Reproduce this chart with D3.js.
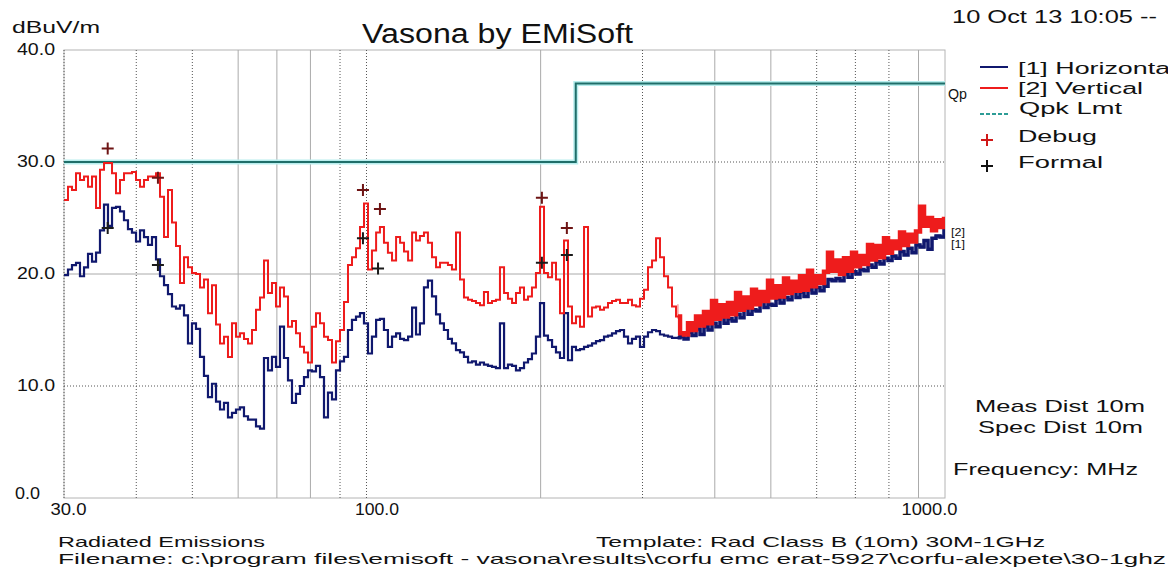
<!DOCTYPE html>
<html>
<head>
<meta charset="utf-8">
<script src="https://cdn.jsdelivr.net/npm/d3@7"></script>
<style>
  body { margin: 0; background: #fff; }
  svg { display: block; font-family: "Liberation Sans", Arial, sans-serif; }
</style>
</head>
<body>
<div id="chart"></div>
<script>
// Sweep frequencies (MHz), shared by both traces
var freqMHz = [
  30.00, 30.48, 30.97, 31.47, 31.97, 32.49, 33.01, 33.54, 34.08, 34.62,
  35.18, 35.74, 36.32, 36.90, 37.49, 38.09, 38.70, 39.32, 39.96, 40.60,
  41.25, 41.91, 42.58, 43.27, 43.96, 44.67, 45.38, 46.11, 46.85, 47.60,
  48.37, 49.14, 49.93, 50.73, 51.55, 52.37, 53.21, 54.07, 54.94, 55.82,
  56.71, 57.62, 58.55, 59.49, 60.44, 61.41, 62.40, 63.40, 64.42, 65.45,
  66.50, 67.57, 68.65, 69.75, 70.87, 72.01, 73.17, 74.34, 75.53, 76.75,
  77.98, 79.23, 80.50, 81.79, 83.11, 84.44, 85.79, 87.17, 88.57, 89.99,
  91.44, 92.90, 94.39, 95.91, 97.45, 99.01, 100.6, 102.2, 103.9, 105.5,
  107.2, 108.9, 110.7, 112.5, 114.3, 116.1, 118.0, 119.9, 121.8, 123.7,
  125.7, 127.7, 129.8, 131.9, 134.0, 136.1, 138.3, 140.5, 142.8, 145.1,
  147.4, 149.8, 152.2, 154.6, 157.1, 159.6, 162.2, 164.8, 167.4, 170.1,
  172.9, 175.6, 178.5, 181.3, 184.2, 187.2, 190.2, 193.2, 196.3, 199.5,
  202.7, 205.9, 209.3, 212.6, 216.0, 219.5, 223.0, 226.6, 230.2, 233.9,
  237.7, 241.5, 245.4, 249.3, 253.3, 257.4, 261.5, 265.7, 270.0, 274.3,
  278.7, 283.2, 287.7, 292.3, 297.0, 301.8, 306.6, 311.6, 316.6, 321.6,
  326.8, 332.1, 337.4, 342.8, 348.3, 353.9, 359.6, 365.3, 371.2, 377.2,
  383.2, 389.4, 395.6, 402.0, 408.4, 415.0, 421.6, 428.4, 435.3, 442.3,
  449.3, 456.6, 463.9, 471.3, 478.9, 486.6, 494.4, 502.3, 510.4, 518.6,
  526.9, 535.4, 543.9, 552.7, 561.5, 570.5, 579.7, 589.0, 598.5, 608.1,
  617.8, 627.7, 637.8, 648.0, 658.4, 669.0, 679.8, 690.7, 701.7, 713.0,
  724.4, 736.1, 747.9, 759.9, 772.1, 784.5, 797.1, 809.9, 822.8, 836.1,
  849.5, 863.1, 877.0, 891.0, 905.3, 919.9, 934.6, 949.6, 964.9, 980.3,
  996.1, 1000
]

// [1] Horizontal, dBuV/m
var horizontal = [
  19.9, 20.4, 20.8, 21.0, 19.8, 20.6, 21.8, 21.1, 21.9, 23.9,
  26.2, 24.3, 25.9, 26.0, 25.6, 24.8, 24.0, 23.7, 22.9, 23.9,
  23.3, 22.6, 23.3, 21.3, 19.8, 19.0, 18.2, 17.1, 16.9, 17.2,
  16.3, 13.8, 15.6, 15.1, 12.6, 10.9, 9.0, 10.2, 8.6, 7.9,
  8.5, 7.2, 7.6, 7.9, 8.1, 7.3, 7.0, 7.0, 6.4, 6.2,
  12.5, 11.4, 12.6, 11.7, 15.3, 12.5, 10.5, 8.5, 9.3, 10.0,
  10.8, 11.4, 11.3, 11.8, 10.8, 7.2, 9.4, 8.8, 11.4, 12.2,
  12.6, 15.0, 15.9, 16.2, 16.5, 15.6, 12.9, 14.4, 15.9, 16.0,
  15.0, 13.5, 14.4, 14.7, 14.2, 14.1, 14.4, 17.0, 14.6, 15.6,
  18.8, 19.4, 18.0, 16.4, 15.6, 15.0, 14.2, 13.8, 13.2, 13.0,
  12.6, 12.1, 12.2, 11.9, 12.1, 11.9, 11.8, 11.7, 11.6, 15.6,
  11.6, 11.9, 11.8, 11.4, 11.6, 12.1, 12.4, 12.9, 14.4, 17.4,
  14.5, 14.1, 13.5, 13.0, 12.5, 16.5, 12.3, 13.5, 13.2, 13.3,
  13.5, 13.6, 13.8, 14.0, 14.1, 14.4, 14.5, 14.7, 14.9, 15.0,
  14.4, 13.8, 14.2, 14.4, 13.5, 14.4, 14.8, 15.0, 14.9, 14.6,
  14.5, 14.4, 14.3, 14.3, 14.4, 14.2, 14.8, 14.5, 15.1, 14.6,
  15.3, 15.0, 15.6, 15.3, 16.3, 15.6, 16.0, 15.8, 16.4, 16.1,
  17.0, 16.4, 16.8, 16.7, 17.6, 17.0, 17.3, 17.2, 17.8, 17.4,
  17.9, 17.7, 18.6, 17.9, 18.4, 18.0, 18.6, 18.3, 18.8, 18.5,
  18.9, 19.5, 19.4, 19.6, 19.4, 20.0, 19.7, 20.2, 20.0, 20.4,
  20.3, 20.8, 20.6, 21.1, 20.9, 21.4, 21.2, 21.6, 21.4, 22.0,
  21.7, 22.3, 21.9, 22.6, 22.4, 23.0, 22.2, 23.2, 23.4, 23.3,
  23.9, 23.9
]

// [2] Vertical, dBuV/m
var vertical = [
  26.6, 27.8, 27.5, 29.0, 28.4, 28.7, 27.8, 28.7, 25.9, 29.3,
  29.9, 29.9, 29.0, 27.2, 28.4, 29.0, 29.0, 29.1, 28.4, 27.8,
  28.4, 28.7, 28.7, 29.0, 26.9, 23.3, 27.5, 24.6, 22.5, 19.2,
  21.5, 20.6, 20.1, 20.0, 18.8, 19.5, 16.5, 19.0, 15.5, 13.8,
  14.4, 12.6, 15.6, 14.4, 14.7, 14.2, 13.8, 15.0, 16.8, 17.9,
  21.2, 18.3, 19.2, 17.1, 18.8, 18.0, 15.3, 15.8, 14.7, 13.5,
  13.0, 12.1, 15.3, 16.5, 15.6, 14.4, 14.1, 12.1, 14.0, 15.0,
  17.5, 20.8, 21.5, 22.3, 24.2, 26.3, 20.4, 22.1, 23.7, 24.2,
  22.8, 21.9, 21.2, 23.3, 22.8, 22.0, 21.2, 23.7, 23.0, 23.4,
  23.7, 22.8, 21.5, 20.6, 21.0, 21.0, 20.8, 20.4, 23.7, 19.5,
  17.9, 17.7, 17.6, 17.4, 17.2, 18.4, 17.4, 17.6, 17.7, 20.6,
  18.3, 17.8, 17.4, 18.3, 18.8, 17.7, 18.0, 18.8, 20.1, 26.0,
  20.1, 19.7, 21.0, 19.5, 16.5, 23.0, 17.1, 15.6, 16.2, 15.3,
  24.2, 16.2, 17.0, 17.1, 16.8, 17.0, 17.4, 17.6, 17.7, 17.4,
  17.4, 17.7, 17.2, 17.1, 17.8, 18.6, 20.6, 21.2, 23.2, 21.5,
  19.8, 18.8, 17.1, 16.2, 14.7, 14.6, 15.6, 15.0, 16.2, 15.4,
  16.6, 15.6, 17.6, 16.0, 17.2, 16.2, 17.4, 16.4, 18.3, 16.8,
  17.9, 17.0, 18.6, 17.3, 18.4, 17.6, 19.4, 17.9, 18.9, 18.0,
  19.6, 18.3, 19.3, 18.5, 19.8, 18.6, 20.3, 18.9, 19.8, 19.2,
  20.2, 21.9, 20.3, 21.2, 20.0, 21.4, 20.3, 21.9, 20.7, 21.6,
  20.9, 22.6, 21.3, 22.5, 21.5, 23.2, 21.9, 22.9, 22.3, 23.7,
  22.6, 23.5, 22.9, 23.8, 26.0, 24.3, 25.0, 23.9, 24.8, 24.2,
  24.9, 24.8
]

// Quasi-peak limit (Class B, 10 m)
var limitFreq = [30, 230, 230, 1000]
var limitDb = [30, 30, 37, 37]

// Debug and formal measurement points
var debugFreq = [35.7, 43.6, 98.6, 105.5, 201, 222]
var debugDb = [31.2, 28.6, 27.5, 25.8, 26.8, 24.1]
var formalFreq = [35.7, 43.6, 98.6, 104.7, 201, 222]
var formalDb = [24.1, 20.8, 23.2, 20.5, 21.0, 21.7]

// Axis ticks
var yTicks = [0, 10, 20, 30, 40]
var xTicks = [30, 100, 1000]
var gridFreq = [40, 50, 60, 70, 80, 90, 100, 200, 300, 400, 500, 600, 700, 800, 900]
var gridDb = [10, 20, 30]

var width = 1168, height = 578
var dottedV = [40, 50, 90, 100, 300, 600, 700, 800]
var dottedH = [10, 30]

var navy = "#10186e", red = "#ee1c1c", teal = "#1f6e69"

var svg = d3.select("#chart").append("svg")
  .attr("width", width)
  .attr("height", height)

var x = d3.scaleLog().domain([30, 1000]).range([64, 945])
var y = d3.scaleLinear().domain([0, 40]).range([498, 50])

// frame
svg.append("rect")
  .attr("x", x(30)).attr("y", y(40))
  .attr("width", x(1000) - x(30)).attr("height", y(0) - y(40))
  .attr("fill", "none").attr("stroke", "#b4b4b4")

svg.append("line")
  .attr("x1", x(30)).attr("x2", x(30)).attr("y1", y(40)).attr("y2", y(0))
  .attr("stroke", "#555").attr("stroke-dasharray", "1,2")

// grid
svg.selectAll(".vgrid").data(gridFreq).enter().append("line")
  .attr("x1", function(d) { return x(d) }).attr("x2", function(d) { return x(d) })
  .attr("y1", y(40)).attr("y2", y(0))
  .attr("stroke", function(d) { return dottedV.indexOf(d) >= 0 ? "#555" : "#aaa" })
  .attr("stroke-dasharray", function(d) { return dottedV.indexOf(d) >= 0 ? "1,2" : null })

svg.selectAll(".hgrid").data(gridDb).enter().append("line")
  .attr("x1", x(30)).attr("x2", x(1000))
  .attr("y1", function(d) { return y(d) }).attr("y2", function(d) { return y(d) })
  .attr("stroke", function(d) { return dottedH.indexOf(d) >= 0 ? "#555" : "#aaa" })
  .attr("stroke-dasharray", function(d) { return dottedH.indexOf(d) >= 0 ? "1,2" : null })

var defs = svg.append("defs")
defs.append("clipPath").attr("id", "plotclip")
  .append("rect")
  .attr("x", x(30)).attr("y", y(40))
  .attr("width", x(1000) - x(30)).attr("height", y(0) - y(40))
// the upper band of the sweep is drawn heavier, as in the reference
defs.append("clipPath").attr("id", "denseclip")
  .append("rect")
  .attr("x", x(345)).attr("y", y(40))
  .attr("width", x(1000) - x(345)).attr("height", y(0) - y(40))

var plot = svg.append("g").attr("clip-path", "url(#plotclip)")

// limit line with light halo
var limitLine = d3.line()
  .x(function(d, i) { return x(limitFreq[i]) })
  .y(function(d, i) { return y(limitDb[i]) })
plot.append("path").attr("d", limitLine(limitFreq))
  .attr("fill", "none").attr("stroke", "#b8eeee").attr("stroke-width", 5)
plot.append("path").attr("d", limitLine(limitFreq))
  .attr("fill", "none").attr("stroke", teal).attr("stroke-width", 2)

// traces
function trace(values) {
  return d3.line()
    .curve(d3.curveStepAfter)
    .x(function(d, i) { return x(freqMHz[i]) })
    .y(function(d) { return y(d) })(values)
}

plot.append("path").attr("d", trace(horizontal))
  .attr("fill", "none").attr("stroke", navy).attr("stroke-width", 2.2)
plot.append("path").attr("d", trace(horizontal))
  .attr("clip-path", "url(#denseclip)")
  .attr("fill", "none").attr("stroke", navy).attr("stroke-width", 3.5)
plot.append("path").attr("d", trace(vertical))
  .attr("fill", "none").attr("stroke", red).attr("stroke-width", 2)
plot.append("path").attr("d", trace(vertical))
  .attr("clip-path", "url(#denseclip)")
  .attr("fill", "none").attr("stroke", red).attr("stroke-width", 4.5)

// markers
var cross = "M-6,0H6M0,-6V6"
svg.selectAll(".debug").data(debugFreq).enter().append("path")
  .attr("d", cross)
  .attr("transform", function(d, i) { return "translate(" + x(d) + "," + y(debugDb[i]) + ")" })
  .attr("stroke", "#6e1414").attr("stroke-width", 2)
svg.selectAll(".formal").data(formalFreq).enter().append("path")
  .attr("d", cross)
  .attr("transform", function(d, i) { return "translate(" + x(d) + "," + y(formalDb[i]) + ")" })
  .attr("stroke", "#1a1a1a").attr("stroke-width", 2)

// axes
var yAxis = svg.append("g")
  .attr("transform", "translate(" + x(30) + ",0)")
  .call(d3.axisLeft(y).tickValues(yTicks).tickFormat(d3.format(".1f")).tickSize(0).tickPadding(9))
yAxis.select(".domain").remove()
yAxis.selectAll("text")
  .attr("fill", "#111")
  .style("font-size", "16px")
  .attr("font-family", null)
  .attr("textLength", function(d) { return d === 0 ? 25 : 38 })
  .attr("lengthAdjust", "spacingAndGlyphs")
  .attr("x", function(d) { return d === 0 ? -24 : -9 })
  .attr("dy", function(d) { return d === 0 ? "0.0em" : "0.25em" })

var xAxis = svg.append("g")
  .attr("transform", "translate(0," + y(0) + ")")
  .call(d3.axisBottom(x).tickValues(xTicks).tickFormat(d3.format(".1f")).tickSize(0).tickPadding(6))
xAxis.select(".domain").remove()
xAxis.selectAll("text")
  .attr("fill", "#111")
  .style("font-size", "16px")
  .attr("font-family", null)
  .attr("textLength", function(d) { return d === 30 ? 36 : d === 100 ? 44 : 56 })
  .attr("lengthAdjust", "spacingAndGlyphs")
  .attr("x", function(d) { return d === 30 ? 4 : d === 100 ? 10 : -16 })

// texts
function label(txt, px, py, size, len) {
  var t = svg.append("text")
    .attr("x", px).attr("y", py)
    .attr("fill", "#111")
    .style("font-size", size + "px")
    .text(txt)
  if (len) t.attr("textLength", len).attr("lengthAdjust", "spacingAndGlyphs")
  return t
}

label("Vasona by EMiSoft", 362, 43, 27, 271)
label("dBuV/m", 12, 33, 17, 88)
label("10 Oct 13 10:05 --", 952, 23, 18, 205)

label("[1] Horizontal", 1018, 74, 16, 158)
label("[2] Vertical", 1018, 94, 16, 125)
label("Qpk Lmt", 1019, 114, 16, 103)
label("Debug", 1018, 142, 16, 79)
label("Formal", 1018, 168, 16, 85)
label("Qp", x(1000) + 3, y(37) + 15, 15, 19)

label("Meas Dist 10m", 975, 412, 17, 170)
label("Spec Dist 10m", 978, 433, 17, 165)
label("Frequency: MHz", 953, 475, 17, 185)

label("Radiated Emissions", 58, 547, 15, 207)
label("Template: Rad Class B (10m) 30M-1GHz", 596, 547, 15, 449)
label("Filename: c:\\program files\\emisoft - vasona\\results\\corfu emc erat-5927\\corfu-alexpete\\30-1ghz", 58, 564, 15, 1108)

// legend samples
var legend = svg.append("g")
legend.append("line").attr("x1", 980).attr("x2", 1008).attr("y1", 67).attr("y2", 67)
  .attr("stroke", navy).attr("stroke-width", 2)
legend.append("line").attr("x1", 980).attr("x2", 1008).attr("y1", 88).attr("y2", 88)
  .attr("stroke", red).attr("stroke-width", 2)
legend.append("line").attr("x1", 980).attr("x2", 1008).attr("y1", 114).attr("y2", 114)
  .attr("stroke", "#2d9c96").attr("stroke-width", 2).attr("stroke-dasharray", "4,2")
legend.append("path").attr("d", cross).attr("transform", "translate(987,140)")
  .attr("stroke", "#d01818").attr("stroke-width", 2)
legend.append("path").attr("d", cross).attr("transform", "translate(987,166)")
  .attr("stroke", "#111").attr("stroke-width", 2)

// trace end tags
label("[2]", x(1000) + 6, y(vertical[vertical.length - 1]) + 16, 10, 14)
label("[1]", x(1000) + 6, y(horizontal[horizontal.length - 1]) + 18, 10, 14)
</script>
</body>
</html>
